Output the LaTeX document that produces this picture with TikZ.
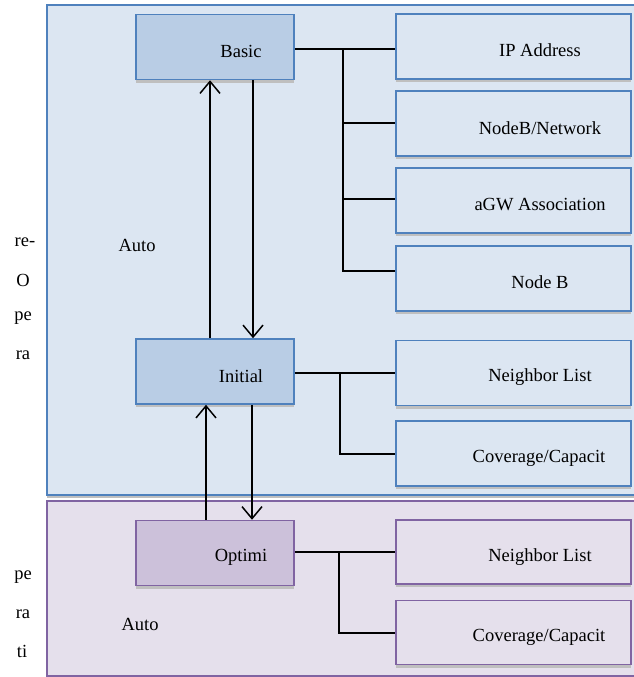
\documentclass[tikz,border=0pt]{standalone}
\usepackage{fontspec}
\setmainfont{Liberation Serif}
\usetikzlibrary{arrows.meta}
\definecolor{bluefill}{HTML}{DCE6F2}
\definecolor{blueline}{HTML}{4F81BD}
\definecolor{bluebox}{HTML}{B9CDE5}
\definecolor{purpfill}{HTML}{E5E0EC}
\definecolor{purpline}{HTML}{8064A2}
\definecolor{purpbox}{HTML}{CCC1DA}
\tikzset{
  shadowed/.style={preaction={draw=none, fill=black!25, transform canvas={yshift=-3pt}}},
  bluepanel/.style={draw=blueline, fill=bluefill, line width=1.5pt, shadowed},
  purppanel/.style={draw=purpline, fill=purpfill, line width=1.5pt},
  bbox/.style={draw=blueline, fill=bluebox, line width=1.5pt, shadowed, minimum width=158pt, minimum height=65pt, inner sep=0pt},
  pbox/.style={draw=purpline, fill=purpbox, line width=1.5pt, shadowed, minimum width=158pt, minimum height=65pt, inner sep=0pt},
  rbbox/.style={draw=blueline, fill=bluefill, line width=1.5pt, shadowed, minimum width=235pt, minimum height=65pt, inner sep=0pt},
  rpbox/.style={draw=purpline, fill=purpfill, line width=1.5pt, shadowed, minimum width=235pt, minimum height=64pt, inner sep=0pt},
  txt/.style={font=\fontsize{18.5}{20}\selectfont, inner sep=0pt},
  conn/.style={draw=black, line width=1.5pt},
  arr/.style={draw=black, line width=1.5pt, -{Straight Barb[length=12pt,width=20pt,line width=1.5pt]}},
}
\begin{document}
\begin{tikzpicture}[x=1pt,y=-1pt]
\useasboundingbox (0,0) rectangle (634,677);
\clip (0,0) rectangle (634,677);
\fill[white] (0,0) rectangle (634,677);
% panels
\path[purppanel] (47,501) rectangle (660,676);
\path[bluepanel] (47,5) rectangle (660,495);
% left boxes
\node[bbox] (basic) at (215,47) {};
\node[bbox] (initial) at (215,371.5) {};
\node[pbox] (optimi) at (215,553) {};
% right boxes
\node[rbbox] (ip) at (513.5,46.5) {};
\node[rbbox] (nbn) at (513.5,123.5) {};
\node[rbbox] (agw) at (513.5,200.5) {};
\node[rbbox] (nodeb) at (513.5,278.5) {};
\node[rbbox] (nl1) at (513.5,373) {};
\node[rbbox] (cov1) at (513.5,453.5) {};
\node[rpbox] (nl2) at (513.5,552) {};
\node[rpbox] (cov2) at (513.5,632.5) {};
% texts in boxes
\node[txt] at (241,51) {Basic};
\node[txt] at (241,376) {Initial};
\node[txt] at (241,557) {Optimi};
\node[txt] at (540,50) {IP Address};
\node[txt] at (540,128) {NodeB/Network};
\node[txt] at (540,205) {aGW Association};
\node[txt] at (540,282) {Node B};
\node[txt] at (540,377) {Neighbor List};
\node[txt] at (539,458) {Coverage/Capacit};
\node[txt] at (540,557) {Neighbor List};
\node[txt] at (539,637) {Coverage/Capacit};
% free texts
\node[txt] (auto1) at (137,245) {Auto};
\node[txt] (auto2) at (140,624) {Auto};
\node[txt] (l1) at (25,242) {re-};
\node[txt] (l2) at (23,280) {O};
\node[txt] (l3) at (23,318) {pe};
\node[txt] (l4) at (23,355) {ra};
\node[txt] (l5) at (23,577) {pe};
\node[txt] (l6) at (23,614) {ra};
\node[txt] (l7) at (22,651) {ti};
% connectors: Basic tree
\coordinate (t1) at (343,49);
\coordinate (t2) at (343,123);
\coordinate (t3) at (343,199);
\coordinate (t4) at (343,271);
\draw[conn] (basic.east |- t1) -- (ip.west |- t1);
\draw[conn] (t1) -- (t4) -- (nodeb.west |- t4);
\draw[conn] (t2) -- (nbn.west |- t2);
\draw[conn] (t3) -- (agw.west |- t3);
% Initial tree
\coordinate (i1) at (340,373);
\coordinate (i2) at (340,454);
\draw[conn] (initial.east |- i1) -- (nl1.west |- i1);
\draw[conn] (i1) -- (i2) -- (cov1.west |- i2);
% Optimi tree
\coordinate (o1) at (339,552);
\coordinate (o2) at (339,633);
\draw[conn] (optimi.east |- o1) -- (nl2.west |- o1);
\draw[conn] (o1) -- (o2) -- (cov2.west |- o2);
% arrows
\draw[arr] (initial.north -| 210,0) -- (basic.south -| 210,0);
\draw[arr] (basic.south -| 253,0) -- (initial.north -| 253,0);
\draw[arr] (optimi.north -| 206,0) -- (initial.south -| 206,0);
\draw[arr] (initial.south -| 252,0) -- (optimi.north -| 252,0);
\end{tikzpicture}
\end{document}
